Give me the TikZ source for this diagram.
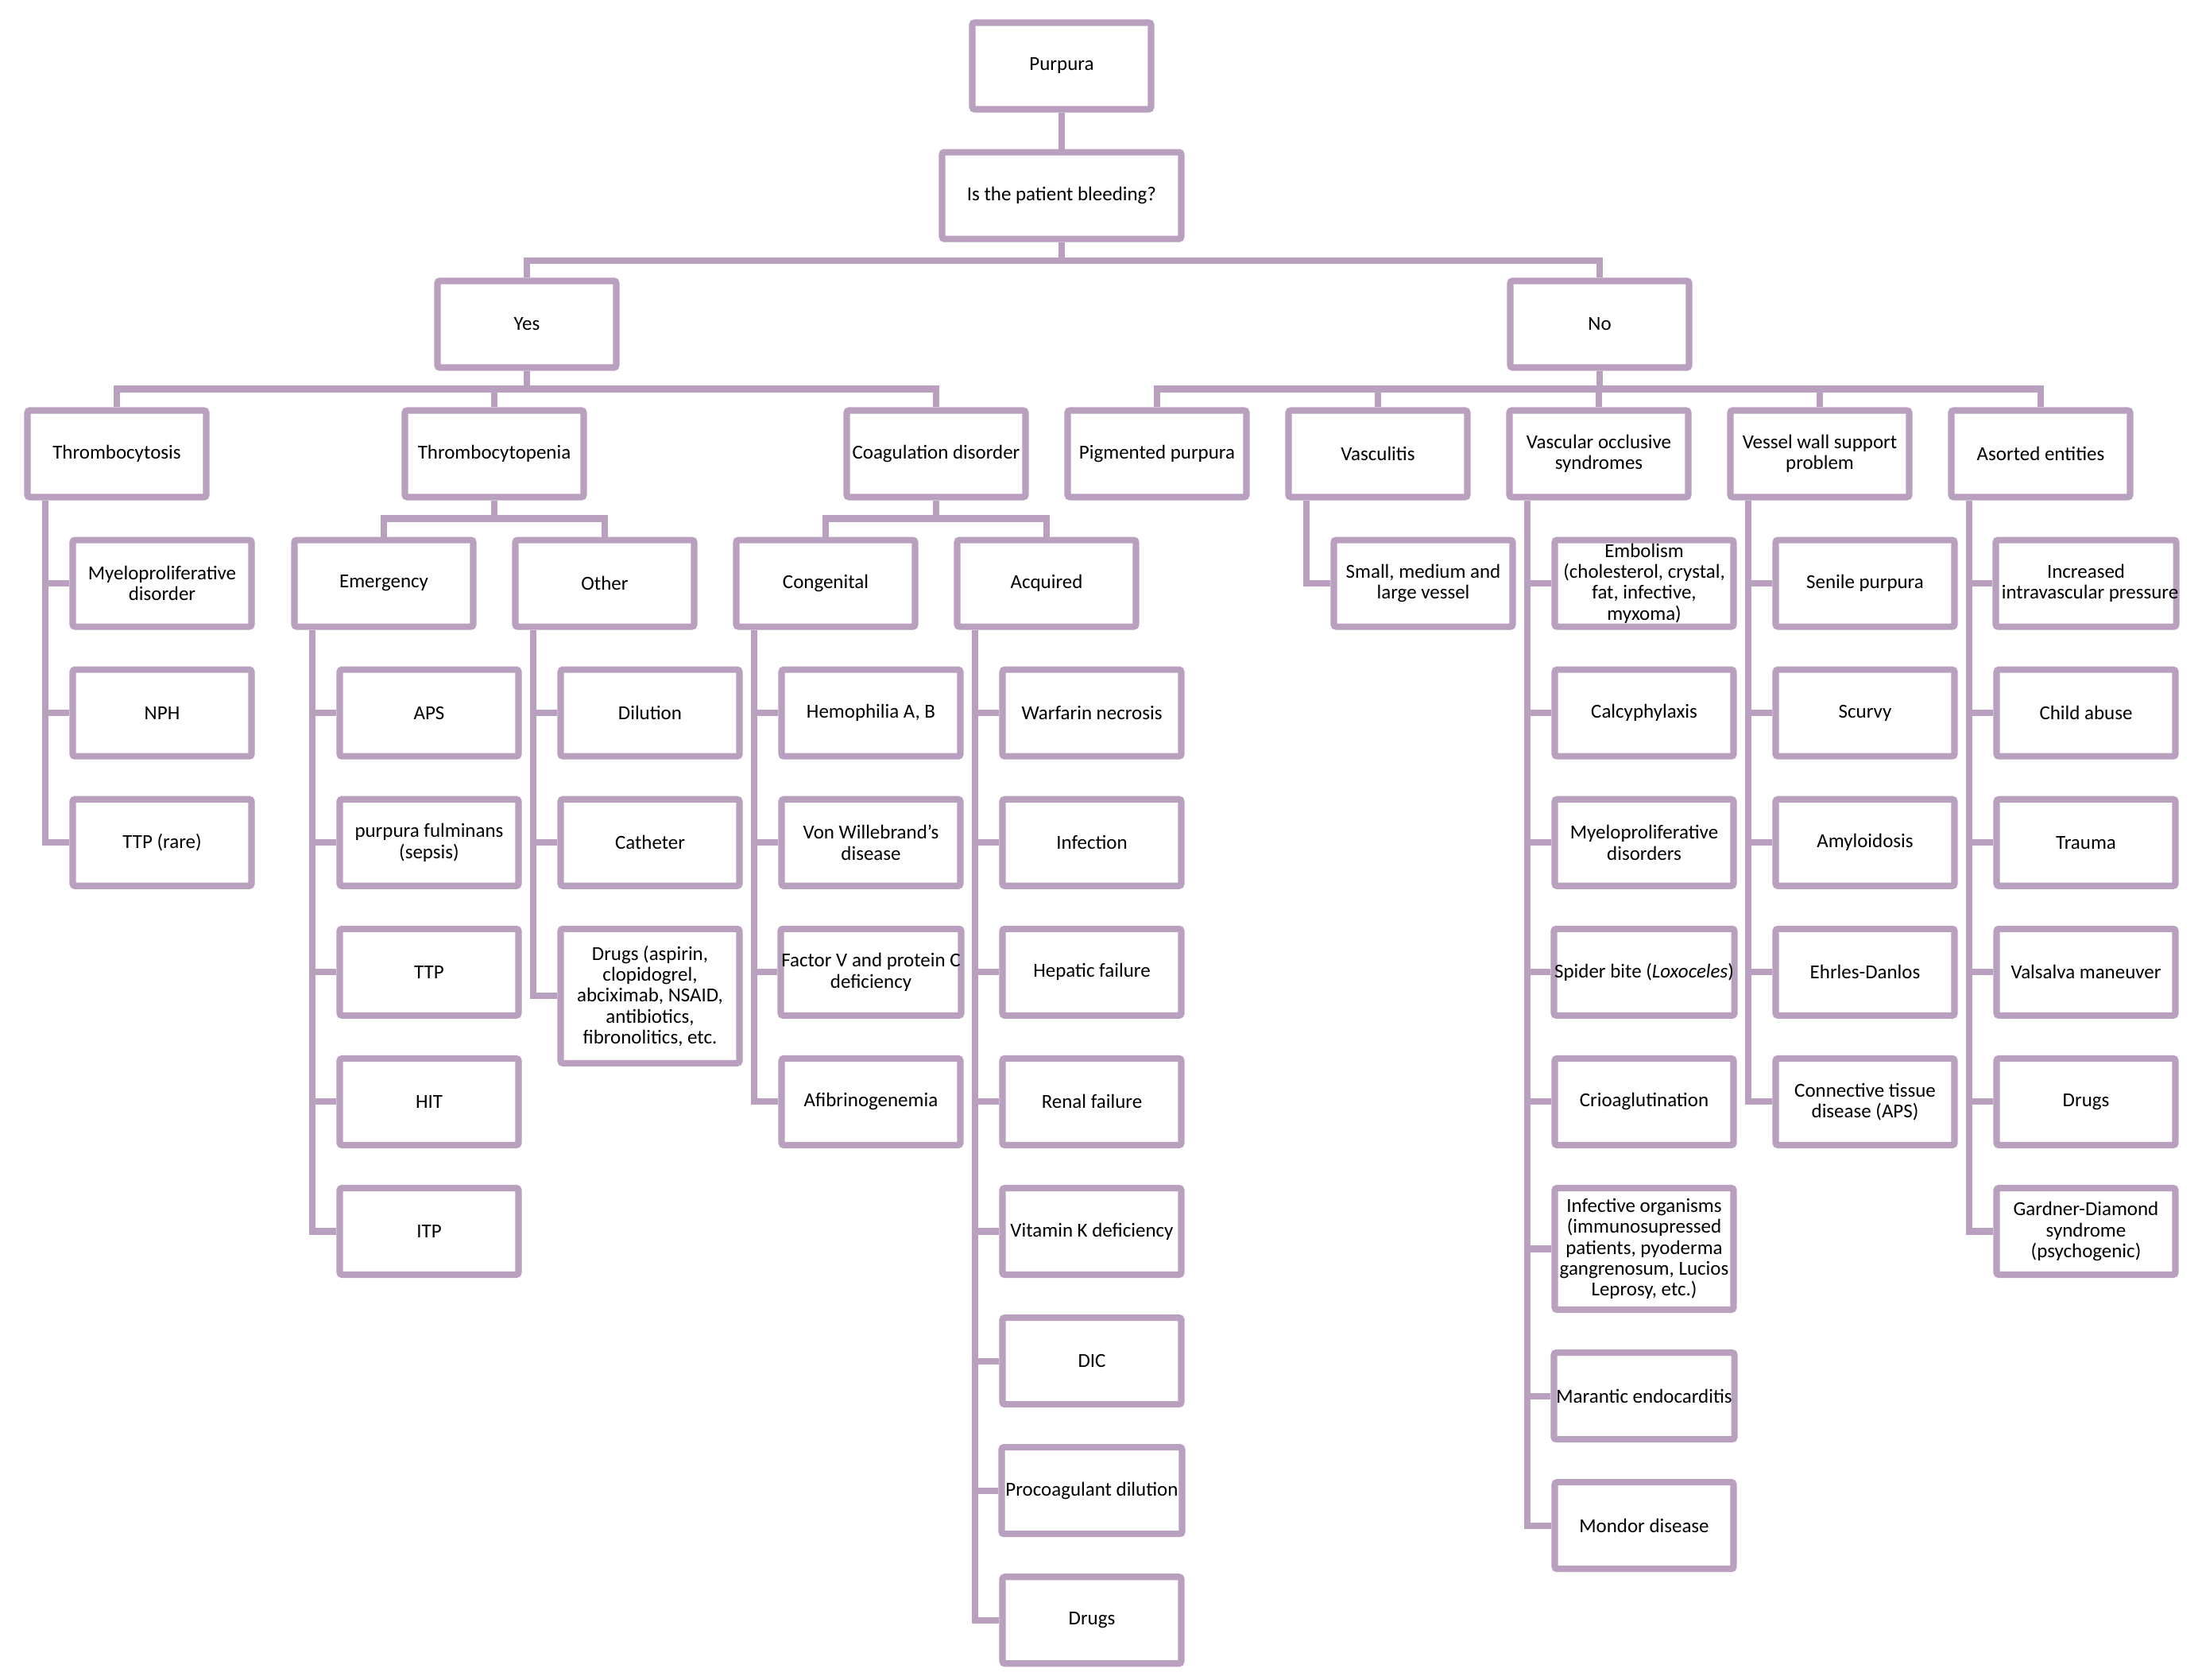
\documentclass[tikz,border=0pt]{standalone}
\usepackage{fontspec}
\setmainfont{Carlito}
\definecolor{SoftMauve}{HTML}{B8A0BE}
\usetikzlibrary{positioning}
\newcommand{\wideline}[1]{\makebox[2.2cm]{#1}}

\begin{document}
\begin{tikzpicture}[
  node distance=0.46cm,
  box/.style={draw=SoftMauve, line width=2.3pt, rounded corners=0.8pt, fill=white,
    align=center, minimum width=2.25cm, minimum height=1.09cm, inner sep=1pt,
    font=\fontsize{7.1}{7.5}\selectfont},
  link/.style={draw=SoftMauve, line width=2.3pt}]

 \useasboundingbox (0,0) rectangle (27.71,-21.14);

 % top of the tree
 \node[box] (purpura) at (13.36,-0.83) {Purpura};
 \node[box, below=of purpura, minimum width=3.01cm] (bleeding) {Is the patient bleeding?};
 \node[box] (yes) at (6.63,-4.08) {Yes};
 \node[box] (no) at (20.13,-4.08) {No};

 \node[box] (tcytosis) at (1.47,-5.71) {Thrombocytosis};
 \node[box] (tpenia) at (6.22,-5.71) {Thrombocytopenia};
 \node[box] (coag) at (11.78,-5.71) {Coagulation disorder};
 \node[box] (pigment) at (14.56,-5.71) {Pigmented purpura};
 \node[box] (vascul) at (17.34,-5.71) {Vasculitis};
 \node[box] (occl) at (20.12,-5.71) {Vascular occlusive\\syndromes};
 \node[box] (wall) at (22.90,-5.71) {Vessel wall support\\problem};
 \node[box] (misc) at (25.68,-5.71) {Asorted entities};

 \node[box, below=of tpenia, xshift=-1.39cm] (emerg) {Emergency};
 \node[box, below=of tpenia, xshift=1.39cm] (other) {Other};
 \node[box, below=of coag, xshift=-1.39cm] (congen) {Congenital};
 \node[box, below=of coag, xshift=1.39cm] (acquir) {Acquired};

 % leaves
 \node[box, below=of tcytosis, xshift=0.57cm] (myelo) {Myeloproliferative\\disorder};
 \node[box, below=of myelo] (nph) {NPH};
 \node[box, below=of nph] (ttprare) {TTP (rare)};

 \node[box, below=of emerg, xshift=0.57cm] (aps) {APS};
 \node[box, below=of aps] (fulmin) {purpura fulminans\\(sepsis)};
 \node[box, below=of fulmin] (ttp) {TTP};
 \node[box, below=of ttp] (hit) {HIT};
 \node[box, below=of hit] (itp) {ITP};

 \node[box, below=of other, xshift=0.57cm] (dilution) {Dilution};
 \node[box, below=of dilution] (catheter) {Catheter};
 \node[box, below=of catheter, minimum height=1.69cm] (drugsplt) {Drugs (aspirin,\\clopidogrel,\\abciximab, NSAID,\\antibiotics,\\fibronolitics, etc.};

 \node[box, below=of congen, xshift=0.57cm] (hemo) {Hemophilia A, B};
 \node[box, below=of hemo] (willebrand) {Von Willebrand's\\disease};
 \node[box, below=of willebrand] (factorv) {\wideline{Factor V and protein C}\\deficiency};
 \node[box, below=of factorv] (afibrin) {Afibrinogenemia};

 \node[box, below=of acquir, xshift=0.57cm] (warfarin) {Warfarin necrosis};
 \node[box, below=of warfarin] (infection) {Infection};
 \node[box, below=of infection] (hepatic) {Hepatic failure};
 \node[box, below=of hepatic] (renal) {Renal failure};
 \node[box, below=of renal] (vitk) {Vitamin K deficiency};
 \node[box, below=of vitk] (dic) {DIC};
 \node[box, below=of dic] (procoag) {\wideline{Procoagulant dilution}};
 \node[box, below=of procoag] (drugscoag) {Drugs};

 \node[box, below=of vascul, xshift=0.57cm] (vessel) {Small, medium and\\large vessel};

 \node[box, below=of occl, xshift=0.57cm] (embol) {Embolism\\(cholesterol, crystal,\\fat, infective,\\myxoma)};
 \node[box, below=of embol] (calcy) {Calcyphylaxis};
 \node[box, below=of calcy] (myeloocc) {Myeloproliferative\\disorders};
 \node[box, below=of myeloocc] (spider) {\wideline{Spider bite (\textit{Loxoceles})}};
 \node[box, below=of spider] (crio) {Crioaglutination};
 \node[box, below=of crio, minimum height=1.53cm] (infective) {Infective organisms\\(immunosupressed\\patients, pyoderma\\gangrenosum, Lucios\\Leprosy, etc.)};
 \node[box, below=of infective] (marantic) {\wideline{Marantic endocarditis}};
 \node[box, below=of marantic] (mondor) {Mondor disease};

 \node[box, below=of wall, xshift=0.57cm] (senile) {Senile purpura};
 \node[box, below=of senile] (scurvy) {Scurvy};
 \node[box, below=of scurvy] (amyloid) {Amyloidosis};
 \node[box, below=of amyloid] (ehrles) {Ehrles-Danlos};
 \node[box, below=of ehrles] (connect) {Connective tissue\\disease (APS)};

 \node[box, below=of misc, xshift=0.57cm] (pressure) {Increased\\\wideline{\hspace{0.1cm}intravascular pressure}};
 \node[box, below=of pressure] (abuse) {Child abuse};
 \node[box, below=of abuse] (trauma) {Trauma};
 \node[box, below=of trauma] (valsalva) {Valsalva maneuver};
 \node[box, below=of valsalva] (drugsmisc) {Drugs};
 \node[box, below=of drugsmisc] (gardner) {Gardner-Diamond\\syndrome\\(psychogenic)};

 % forks
 \draw[link] (purpura) -- (bleeding);
 \foreach \kid in {yes,no}
  \draw[link] (bleeding.south) -- ++(0,-0.23) -| (\kid.north);
 \foreach \kid in {tcytosis,tpenia,coag}
  \draw[link] (yes.south) -- ++(0,-0.23) -| (\kid.north);
 \foreach \kid in {pigment,vascul,occl,wall,misc}
  \draw[link] (no.south) -- ++(0,-0.23) -| (\kid.north);
 \foreach \kid in {emerg,other}
  \draw[link] (tpenia.south) -- ++(0,-0.23) -| (\kid.north);
 \foreach \kid in {congen,acquir}
  \draw[link] (coag.south) -- ++(0,-0.23) -| (\kid.north);

 % side trunks
 \foreach \head/\kids in {tcytosis/{myelo,nph,ttprare},
   emerg/{aps,fulmin,ttp,hit,itp},
   other/{dilution,catheter,drugsplt},
   congen/{hemo,willebrand,factorv,afibrin},
   acquir/{warfarin,infection,hepatic,renal,vitk,dic,procoag,drugscoag},
   vascul/{vessel},
   occl/{embol,calcy,myeloocc,spider,crio,infective,marantic,mondor},
   wall/{senile,scurvy,amyloid,ehrles,connect},
   misc/{pressure,abuse,trauma,valsalva,drugsmisc,gardner}} {
  \coordinate (\head-trunk) at ([xshift=0.265cm]\head.south west);
  \foreach \kid in \kids
   \draw[link] (\head-trunk) |- (\kid.west);
 }

\end{tikzpicture}
\end{document}
